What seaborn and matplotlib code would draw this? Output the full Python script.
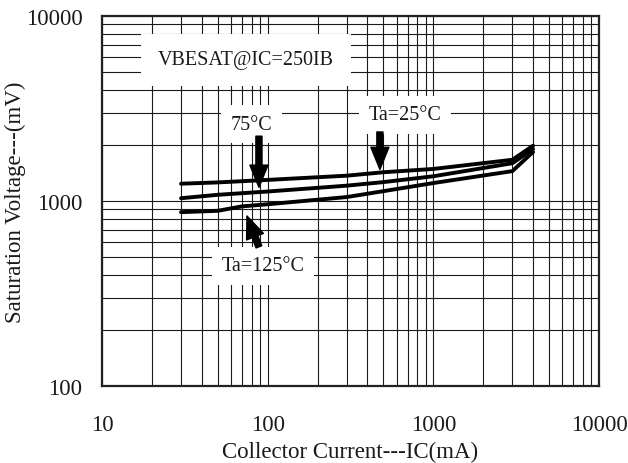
import matplotlib
matplotlib.use("Agg")
import matplotlib.pyplot as plt
import seaborn as sns
import pandas as pd
from matplotlib.ticker import LogLocator, FixedLocator, FixedFormatter, NullFormatter

# Base-emitter saturation voltage vs collector current, IC = 250 IB
ic_25 = [30, 50, 100, 300, 500, 1000, 3000, 4000]
vbe_25 = [1240, 1260, 1300, 1370, 1430, 1490, 1670, 1990]

ic_75 = [30, 50, 100, 300, 500, 1000, 3000, 4000]
vbe_75 = [1035, 1080, 1125, 1210, 1265, 1360, 1600, 1910]

ic_125 = [30, 50, 70, 100, 300, 500, 1000, 3000, 4000]
vbe_125 = [870, 885, 935, 960, 1050, 1130, 1250, 1450, 1840]

x_ticks = [10, 100, 1000, 10000]
x_tick_labels = ["10", "100", "1000", "10000"]
y_ticks = [100, 1000, 10000]
y_tick_labels = ["100", "1000", "10000"]

df = pd.concat([
    pd.DataFrame({"ic": ic_25, "vbe": vbe_25, "temp": "25"}),
    pd.DataFrame({"ic": ic_75, "vbe": vbe_75, "temp": "75"}),
    pd.DataFrame({"ic": ic_125, "vbe": vbe_125, "temp": "125"}),
], ignore_index=True)

sns.set_theme(style="white")
plt.rcParams["font.family"] = ["Liberation Serif", "DejaVu Serif"]

fig = plt.figure(figsize=(6.28, 4.64), dpi=100)
ax = fig.add_axes([0.1624, 0.166, 0.7914, 0.7974])

ax.set_xscale("log")
ax.set_yscale("log")
ax.set_xlim(10, 10000)
ax.set_ylim(100, 10000)

# grid: every decade and every sub-decade step
ax.xaxis.set_major_locator(FixedLocator(x_ticks))
ax.xaxis.set_major_formatter(FixedFormatter(x_tick_labels))
ax.xaxis.set_minor_locator(LogLocator(base=10, subs=range(2, 10)))
ax.xaxis.set_minor_formatter(NullFormatter())
ax.yaxis.set_major_locator(FixedLocator(y_ticks))
ax.yaxis.set_major_formatter(FixedFormatter(y_tick_labels))
ax.yaxis.set_minor_locator(LogLocator(base=10, subs=range(2, 10)))
ax.yaxis.set_minor_formatter(NullFormatter())
ax.grid(True, which="both", color="#1a1a1a", linewidth=0.8)
ax.set_axisbelow(True)

sns.lineplot(data=df, x="ic", y="vbe", hue="temp", units="temp",
             estimator=None, sort=False, palette=["black"] * 3,
             linewidth=2.8, legend=False, ax=ax, zorder=3)

for s in ax.spines.values():
    s.set_color("#222222")
    s.set_linewidth(1.6)

ax.tick_params(axis="both", which="both", length=0, labelsize=16.5,
               labelcolor="#1a1a1a")
ax.tick_params(axis="x", pad=20.5)
ax.tick_params(axis="y", pad=14)
ax.set_xlabel("Collector Current---IC(mA)", fontsize=16.5, labelpad=4,
              color="#1a1a1a")
ax.set_ylabel("Saturation Voltage---(mV)", fontsize=16.5, labelpad=0,
              color="#1a1a1a")

box = dict(facecolor="white", edgecolor="none", pad=7)
ax.text(21.8, 5800, "VBESAT@IC=250IB", fontsize=14.5, ha="left", va="center",
        color="#1a1a1a", bbox=dict(facecolor="white", edgecolor="none", pad=12),
        zorder=4)
ax.text(80, 2600, "75°C", fontsize=14.5, ha="center", va="center",
        color="#1a1a1a", bbox=box, zorder=4)
ax.text(675, 2920, "Ta=25°C", fontsize=14.5, ha="center", va="center",
        color="#1a1a1a", bbox=box, zorder=4)
ax.text(94, 446, "Ta=125°C", fontsize=14.5, ha="center", va="center",
        color="#1a1a1a", bbox=box, zorder=4)

arrow = dict(arrowstyle="simple,head_length=0.8,head_width=0.65,tail_width=0.22",
             color="black", shrinkA=0, shrinkB=0, mutation_scale=20)
ax.annotate("", xy=(88.6, 1185), xytext=(88.6, 2240), arrowprops=arrow, zorder=5)
ax.annotate("", xy=(476, 1480), xytext=(476, 2360), arrowprops=arrow, zorder=5)
ax.annotate("", xy=(75, 830), xytext=(88.6, 565), arrowprops=arrow, zorder=5)

fig.savefig("out.png", dpi=100, facecolor="white")
